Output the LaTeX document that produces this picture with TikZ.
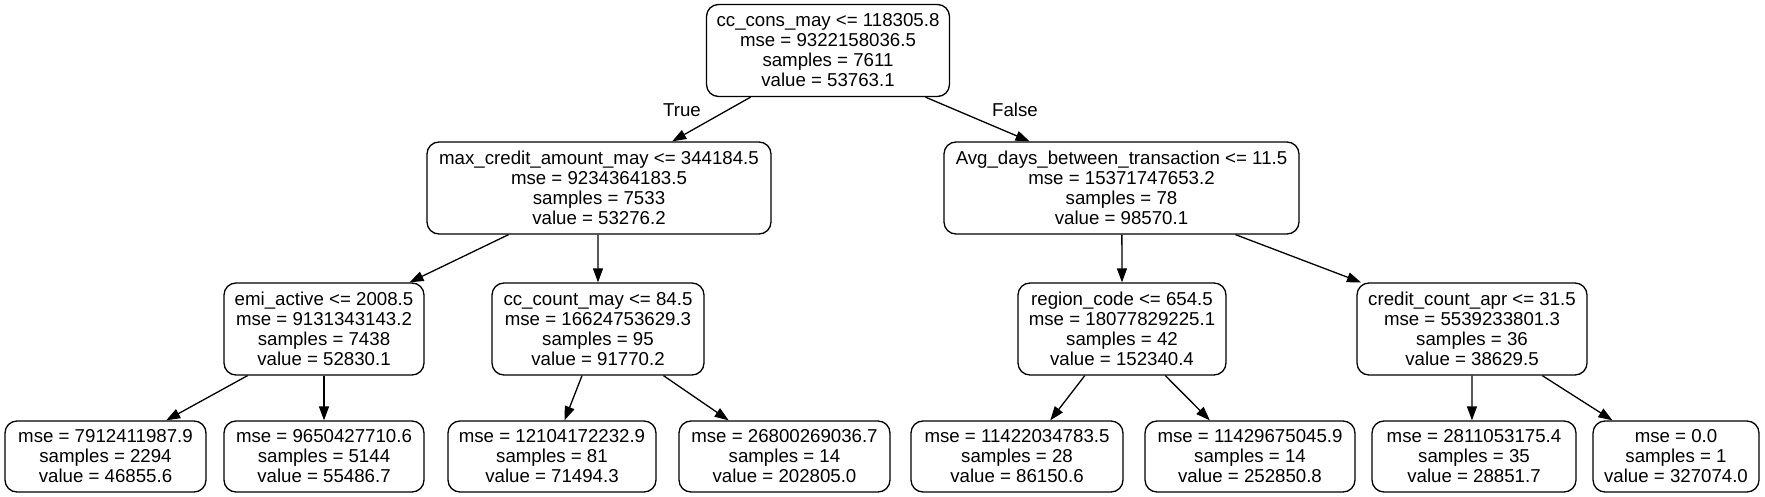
\documentclass[tikz,border=0pt]{standalone}
\usepackage{fontspec}
\setmainfont{Liberation Sans}
\usepackage{tikz}
\usetikzlibrary{positioning, calc, arrows.meta}

\begin{document}
\begin{tikzpicture}[x=1pt, y=-1pt,
		every node/.style={font=\fontsize{18.67}{20}\selectfont},
		split/.style={draw, line width=1.3pt, rounded corners=12pt, align=center, inner sep=0pt, minimum height=92pt},
		leaf/.style={split, minimum height=71pt},
		link/.style={line width=1.3pt, -{Triangle[length=14pt, width=10pt]}}]
		
		%//page, y runs downwards
		\fill[white] (0,0) rectangle (1765,497);
		
		%//level 0 and 1
		\node [split, minimum width=243pt] (root) at (828,50.5) {cc\_cons\_may <= 118305.8\\mse = 9322158036.5\\samples = 7611\\value = 53763.1};
		\node [split, minimum width=344pt] (maxcredit) at (599,188) {max\_credit\_amount\_may <= 344184.5\\mse = 9234364183.5\\samples = 7533\\value = 53276.2};
		\node [split, minimum width=355pt] (avgdays) at (1121.5,188) {Avg\_days\_between\_transaction <= 11.5\\mse = 15371747653.2\\samples = 78\\value = 98570.1};
		
		%//level 2
		\node [split, minimum width=200pt] (emi) at (324,329) {emi\_active <= 2008.5\\mse = 9131343143.2\\samples = 7438\\value = 52830.1};
		\node [split, minimum width=212pt] (cccount) at (598,329) {cc\_count\_may <= 84.5\\mse = 16624753629.3\\samples = 95\\value = 91770.2};
		\node [split, minimum width=208pt] (region) at (1122,329) {region\_code <= 654.5\\mse = 18077829225.1\\samples = 42\\value = 152340.4};
		\node [split, minimum width=230pt] (creditcount) at (1472,329) {credit\_count\_apr <= 31.5\\mse = 5539233801.3\\samples = 36\\value = 38629.5};
		
		%//leaves
		\node [leaf, minimum width=201pt] (leaf1) at (105.5,456.5) {mse = 7912411987.9\\samples = 2294\\value = 46855.6};
		\node [leaf, minimum width=200pt] (leaf2) at (324,456.5) {mse = 9650427710.6\\samples = 5144\\value = 55486.7};
		\node [leaf, minimum width=208pt] (leaf3) at (552,456.5) {mse = 12104172232.9\\samples = 81\\value = 71494.3};
		\node [leaf, minimum width=211pt] (leaf4) at (784.5,456.5) {mse = 26800269036.7\\samples = 14\\value = 202805.0};
		\node [leaf, minimum width=212pt] (leaf5) at (1017,456.5) {mse = 11422034783.5\\samples = 28\\value = 86150.6};
		\node [leaf, minimum width=210pt] (leaf6) at (1250,456.5) {mse = 11429675045.9\\samples = 14\\value = 252850.8};
		\node [leaf, minimum width=204pt] (leaf7) at (1474,456.5) {mse = 2811053175.4\\samples = 35\\value = 28851.7};
		\node [leaf, minimum width=166pt] (leaf8) at (1676,456.5) {mse = 0.0\\samples = 1\\value = 327074.0};
		
		%//connectors: parent/start fraction/child/end fraction
		\foreach \p/\a/\c/\b in {root/.183/maxcredit/.712, root/.899/avgdays/.242,
			maxcredit/.238/emi/.925, maxcredit/.497/cccount/.5,
			avgdays/.501/region/.5, avgdays/.82/creditcount/.02,
			emi/.12/leaf1/.8, emi/.5/leaf2/.5,
			cccount/.425/leaf3/.56, cccount/.807/leaf4/.237,
			region/.322/leaf5/.656, region/.707/leaf6/.31,
			creditcount/.5/leaf7/.49, creditcount/.804/leaf8/.12}
		\draw [link] ($(\p.south west)!\a!(\p.south east)$) -- ($(\c.north west)!\b!(\c.north east)$);
		
		\node (true) at (682,110) {True};
		\node (false) at (1015,110) {False};
		\end{tikzpicture}
\end{document}
